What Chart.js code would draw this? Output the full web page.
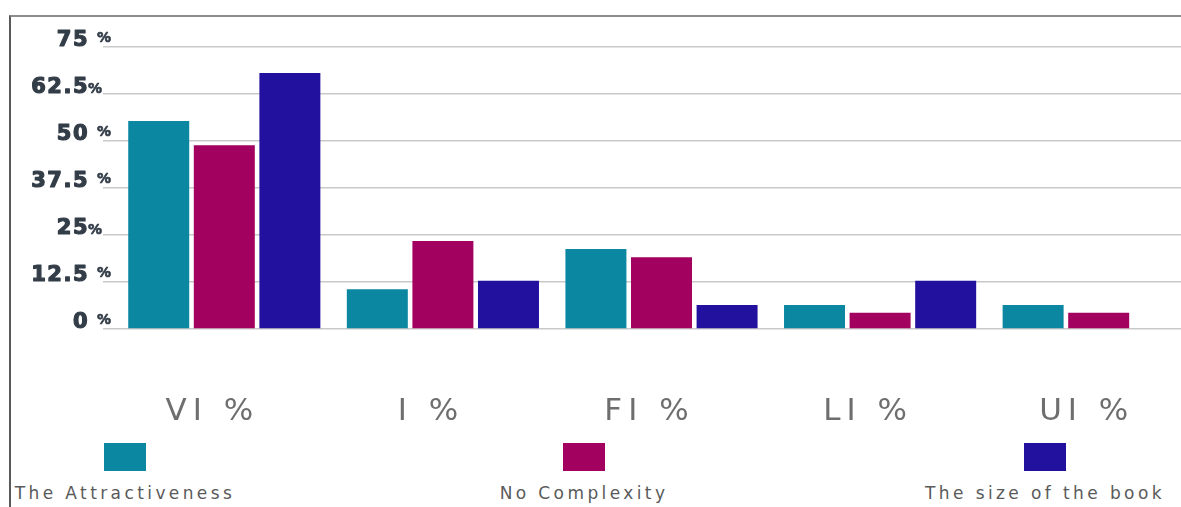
<!DOCTYPE html>
<html>
<head>
<meta charset="utf-8">
<script src="https://cdn.jsdelivr.net/npm/chart.js@4/dist/chart.umd.min.js"></script>
<style>
  html, body { margin: 0; padding: 0; background: #fff; overflow: hidden; width: 1181px; height: 507px; }
  #frame { position: absolute; left: 9px; top: 15px; width: 1220px; height: 500px;
           border-left: 2px solid #5a5a5a; border-top: 2px solid #8c8c8c; }
  #wrap { position: absolute; left: 0; top: 0; }
  #legend { position: absolute; left: 0; top: 0; }
  .item { position: absolute; top: 443px; width: 300px; text-align: center; }
  .box { width: 42px; height: 28px; margin: 0 auto; }
  .txt { font-family: "DejaVu Sans", sans-serif; font-size: 17px; color: #5a5a5a;
         letter-spacing: 3.4px; margin-top: 12px; white-space: nowrap; }
</style>
</head>
<body>
<div id="frame"></div>
<div id="wrap"><canvas id="c" width="1230" height="440"></canvas></div>
<div id="legend"></div>
<script>
// Categories and series (share of respondents, %)
const categories = ['VI %', 'I %', 'FI %', 'LI %', 'UI %'];
const seriesNames = ['The Attractiveness', 'No Complexity', 'The size of the book'];
const attractiveness = [55.3, 10.6, 21.3, 6.4, 6.4];
const noComplexity   = [48.9, 23.4, 19.1, 4.3, 4.3];
const bookSize       = [68.1, 12.8, 6.4, 12.8, 0];
const yTickLabels = ['0 %', '12.5 %', '25%', '37.5 %', '50 %', '62.5%', '75 %'];
const seriesColors = ['#0b87a1', '#a2015f', '#22119f'];

const seriesValues = [attractiveness, noComplexity, bookSize];

// Y-axis labels: heavy number with a small percent sign beside it
const yLabelPlugin = {
  id: 'yLabels',
  beforeDraw(chart) {
    chart.ctx.letterSpacing = '6px';
  },
  afterDraw(chart) {
    const ctx = chart.ctx;
    const y = chart.scales.y;
    ctx.save();
    ctx.fillStyle = '#333d48';
    ctx.strokeStyle = '#333d48';
    ctx.lineJoin = 'round';
    y.ticks.forEach((t, i) => {
      const label = yTickLabels[i];
      const m = label.match(/^([\d.]+)(\s*)(%)$/);
      if (!m) return;
      const py = y.getPixelForValue(t.value);
      const spaced = m[2].length > 0;
      ctx.letterSpacing = '1.5px';
      ctx.font = 'bold 21px "DejaVu Sans"';
      ctx.textAlign = 'right';
      ctx.textBaseline = 'alphabetic';
      ctx.lineWidth = 1.2;
      ctx.fillText(m[1], 89, py - 1);
      ctx.strokeText(m[1], 89, py - 1);
      ctx.letterSpacing = '0px';
      ctx.font = 'bold 14px "DejaVu Sans"';
      ctx.textAlign = 'left';
      ctx.lineWidth = 0.6;
      const px = spaced ? 97 : 88;
      const pyy = py - (spaced ? 5 : 1);
      ctx.fillText(m[3], px, pyy);
      ctx.strokeText(m[3], px, pyy);
    });
    ctx.restore();
  }
};

const chart = new Chart(document.getElementById('c'), {
  type: 'bar',
  data: {
    labels: categories,
    datasets: seriesNames.map((name, i) => ({
      label: name,
      data: seriesValues[i],
      backgroundColor: seriesColors[i],
      borderWidth: 0,
      barPercentage: 0.93,
      categoryPercentage: 0.9
    }))
  },
  options: {
    responsive: false,
    animation: false,
    devicePixelRatio: 1,
    layout: { padding: { top: 47, right: 22, bottom: 0, left: 0 } },
    plugins: { legend: { display: false }, tooltip: { enabled: false } },
    scales: {
      x: {
        grid: { display: false, drawTicks: false },
        border: { display: false },
        ticks: {
          color: '#6e6e6e',
          font: { family: '"DejaVu Sans"', size: 31 },
          padding: 64,
          labelOffset: -12,
          maxRotation: 0
        },
        afterFit(scale) { scale.height = 111; }
      },
      y: {
        min: 0,
        max: 75,
        grid: { color: '#c9c9c9', lineWidth: 1.5, drawTicks: true, tickLength: 12 },
        border: { display: false },
        ticks: { stepSize: 12.5, display: false },
        afterFit(scale) { scale.width = 115; }
      }
    }
  },
  plugins: [yLabelPlugin]
});

// Legend built from the chart's datasets
const legendCenters = [125, 584, 1045];
const legend = document.getElementById('legend');
chart.data.datasets.forEach((ds, i) => {
  const item = document.createElement('div');
  item.className = 'item';
  item.style.left = (legendCenters[i] - 150) + 'px';
  const box = document.createElement('div');
  box.className = 'box';
  box.style.background = ds.backgroundColor;
  const txt = document.createElement('div');
  txt.className = 'txt';
  txt.textContent = ds.label;
  item.appendChild(box);
  item.appendChild(txt);
  legend.appendChild(item);
});
</script>
</body>
</html>
